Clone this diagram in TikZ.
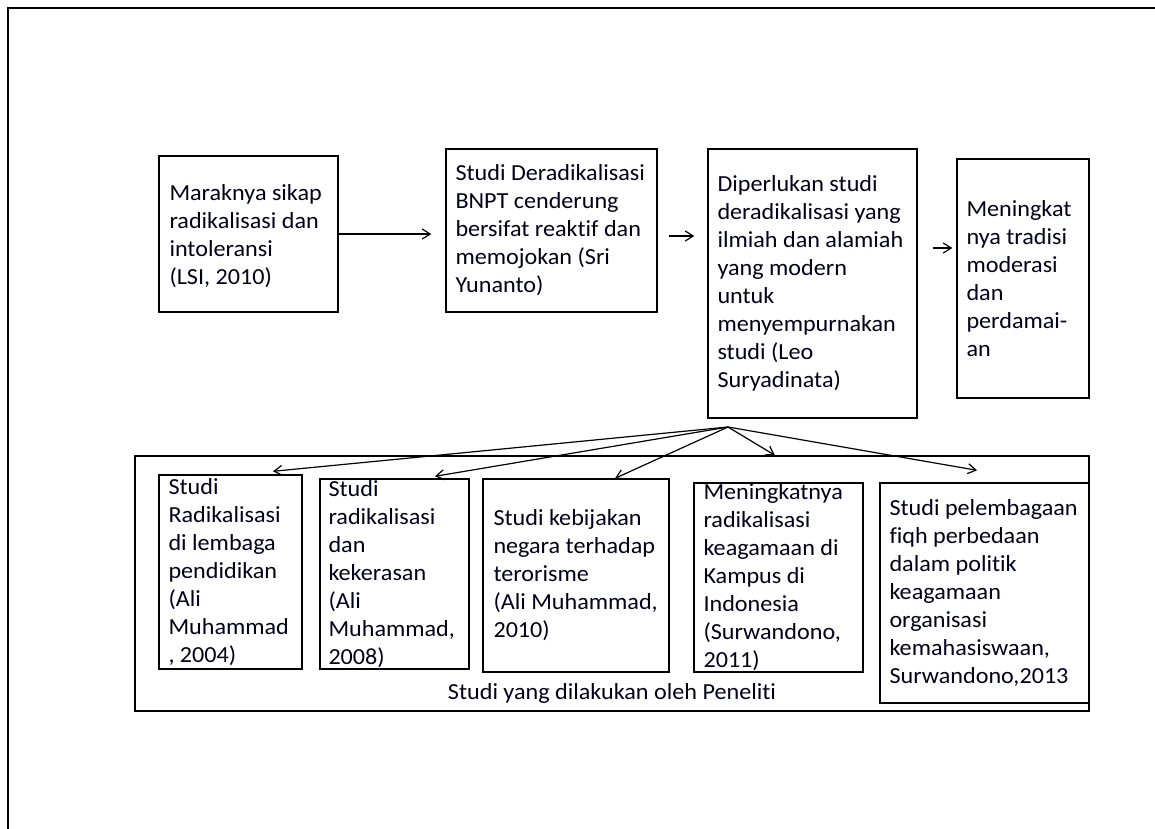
\documentclass[tikz,border=0pt]{standalone}
\usepackage{fontspec}
\setmainfont{Carlito}[FakeStretch=1.05,Ligatures={NoCommon}]
\usetikzlibrary{arrows.meta}
\begin{document}
\begin{tikzpicture}[x=1pt,y=-1pt,
  box/.style={draw, line width=1.4pt, inner sep=0pt, rectangle},
  txt/.style={font=\fontsize{23}{28}\selectfont, align=left, inner sep=0pt, anchor=west, text=black!90!blue},
  arr/.style={line width=1.2pt, -{Straight Barb[length=8pt,width=10pt]}}]
\useasboundingbox (0,0) rectangle (1155,828);
% outer frame (cropped)
\draw[line width=2.5pt] (8,829) -- (8,8) -- (1156,8);
% top row
\node[box, minimum width=179pt, minimum height=156pt] (t1) at (248.5,234) {};
\node[box, minimum width=211pt, minimum height=163pt] (t2) at (551.5,230.5) {};
\node[box, minimum width=209pt, minimum height=269pt] (t3) at (812.5,283.5) {};
\node[box, minimum width=132pt, minimum height=239pt] (t4) at (1023,278.5) {};
\node[txt] (t1t) at ([xshift=11pt,yshift=-2pt]t1.west) {Maraknya sikap\\radikalisasi dan\\intoleransi\\(LSI, 2010)};
\node[txt] (t2t) at ([xshift=10pt]t2.west) {Studi Deradikalisasi\\BNPT cenderung\\bersifat reaktif dan\\memojokan (Sri\\Yunanto)};
\node[txt] (t3t) at ([xshift=10pt]t3.west) {Diperlukan studi\\deradikalisasi yang\\ilmiah dan alamiah\\yang modern\\untuk\\menyempurnakan\\studi (Leo\\Suryadinata)};
\node[txt] (t4t) at ([xshift=10pt]t4.west) {Meningkat\\nya tradisi\\moderasi\\dan\\perdamai-\\an};
% container
\node[box, minimum width=954pt, minimum height=255pt] (cont) at (612,583.5) {};
\node[font=\fontsize{23}{28}\selectfont, inner sep=0pt, text=black!90!blue] (contl) at (612,693) {Studi yang dilakukan oleh Peneliti};
% bottom boxes
\node[box, minimum width=143pt, minimum height=194pt] (b1) at (230.5,572) {};
\node[box, minimum width=149pt, minimum height=190pt] (b2) at (394.5,574) {};
\node[box, minimum width=186pt, minimum height=193pt] (b3) at (576,575.5) {};
\node[box, minimum width=169pt, minimum height=189pt] (b4) at (778.5,577.5) {};
\node[box, minimum width=209pt, minimum height=220pt] (b5) at (984.5,593) {};
\node[txt] (b1t) at ([xshift=10pt]b1.west) {Studi\\Radikalisasi\\di lembaga\\pendidikan\\(Ali\\Muhammad\\, 2004)};
\node[txt] (b2t) at ([xshift=9pt]b2.west) {Studi\\radikalisasi\\dan\\kekerasan\\(Ali\\Muhammad,\\2008)};
\node[txt] (b3t) at ([xshift=11pt]b3.west) {Studi kebijakan\\negara terhadap\\terorisme\\(Ali Muhammad,\\2010)};
\node[txt] (b4t) at ([xshift=10pt]b4.west) {Meningkatnya\\radikalisasi\\keagamaan di\\Kampus di\\Indonesia\\(Surwandono,\\2011)};
\node[txt] (b5t) at ([xshift=10pt]b5.west) {Studi pelembagaan\\fiqh perbedaan\\dalam politik\\keagamaan\\organisasi\\kemahasiswaan,\\Surwandono,2013};
% top arrows
\draw[arr, shorten >=14pt] (t1.east) -- (t2.west |- t1.east);
\draw[arr, shorten <=11pt, shorten >=13pt] (t2.east |- 0,236) -- (t3.west |- 0,236);
\draw[arr, shorten <=15pt, shorten >=4pt] (t3.east |- 0,248) -- (t4.west |- 0,248);
% fan arrows
\coordinate (fan) at (728,427);
\draw[arr] (fan) -- ([xshift=42.5pt,yshift=3pt]b1.north);
\draw[arr] (fan) -- ([xshift=40.5pt,yshift=2pt]b2.north);
\draw[arr] (fan) -- ([xshift=39pt]b3.north);
\draw[arr] (fan) -- ([xshift=-3.5pt]b4.north |- cont.north);
\draw[arr] (fan) -- ([xshift=-7.5pt,yshift=12pt]b5.north);
\end{tikzpicture}
\end{document}
